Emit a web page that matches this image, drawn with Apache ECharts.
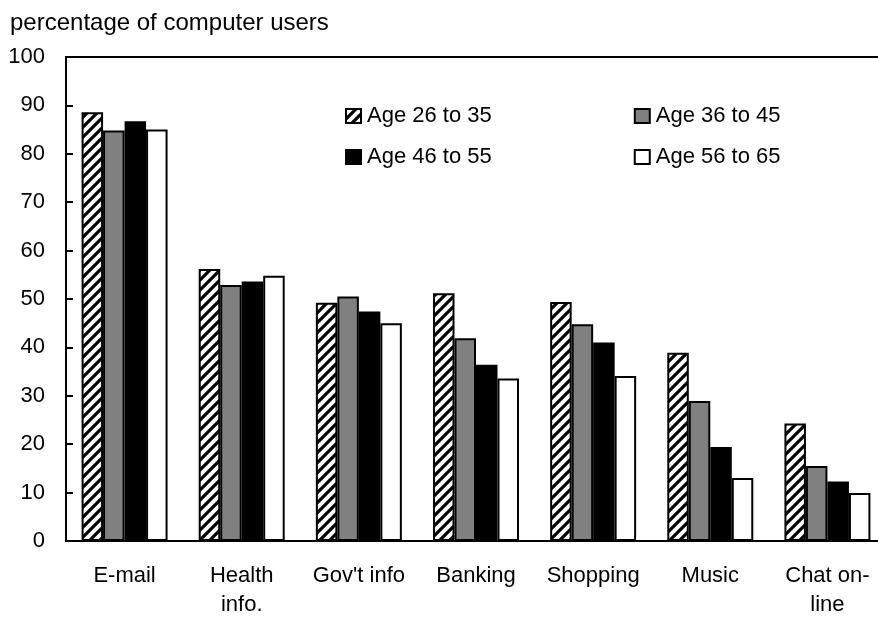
<!DOCTYPE html>
<html>
<head>
<meta charset="utf-8">
<script src="https://cdn.jsdelivr.net/npm/echarts@6/dist/echarts.min.js"></script>
<style>
html,body{margin:0;padding:0;background:#fff;overflow:hidden;}
#chart{width:878px;height:617px;}
</style>
</head>
<body>
<div id="chart"></div>
<script>
var categories = ['E-mail', 'Health\ninfo.', "Gov't info", 'Banking', 'Shopping', 'Music', 'Chat on-\nline'];
var seriesNames = ['Age 26 to 35', 'Age 36 to 45', 'Age 46 to 55', 'Age 56 to 65'];
var age26to35 = [88.6, 56.2, 49.2, 51.2, 49.4, 38.9, 24.3];
var age36to45 = [84.8, 52.9, 50.5, 41.9, 44.8, 28.9, 15.5];
var age46to55 = [86.7, 53.6, 47.4, 36.4, 41.0, 19.4, 12.3];
var age56to65 = [85.0, 54.8, 45.0, 33.6, 34.1, 13.0, 9.9];
var yTicks = [0, 10, 20, 30, 40, 50, 60, 70, 80, 90, 100];

function hatch() {
  var c = document.createElement('canvas');
  var s = 10;
  c.width = s; c.height = s;
  var ctx = c.getContext('2d');
  ctx.fillStyle = '#fff';
  ctx.fillRect(0, 0, s, s);
  ctx.strokeStyle = '#000';
  ctx.lineWidth = 3.2;
  ctx.beginPath();
  ctx.moveTo(-s/2, s/2); ctx.lineTo(s/2, -s/2);
  ctx.moveTo(0, s); ctx.lineTo(s, 0);
  ctx.moveTo(s/2, s*1.5); ctx.lineTo(s*1.5, s/2);
  ctx.stroke();
  return c;
}

var FONT = 'Arial, "Liberation Sans", sans-serif';
var fills = [{image: hatch(), repeat: 'repeat'}, '#808080', '#000000', '#ffffff'];
var data = [age26to35, age36to45, age46to55, age56to65];

var chart = echarts.init(document.getElementById('chart'), null, {renderer: 'canvas'});
var series = data.map(function (d, i) {
  return {
    name: seriesNames[i],
    type: 'bar',
    data: d,
    barGap: '0%',
    barCategoryGap: '26.6%',
    itemStyle: {color: fills[i], borderColor: '#000', borderWidth: 2},
    emphasis: {disabled: true},
    animation: false
  };
});

var legendText = {fontFamily: FONT, fontSize: 22, color: '#000', padding: [0, 0, 0, 1], lineHeight: 22};

chart.setOption({
  animation: false,
  title: {
    text: 'percentage of computer users',
    left: 10, top: 11, padding: 0,
    textStyle: {fontFamily: FONT, fontSize: 24, fontWeight: 'normal', color: '#000'}
  },
  legend: [{
    data: seriesNames.slice(0, 2),
    left: 345, top: 105, padding: 0, icon: 'rect',
    itemWidth: 15, itemHeight: 14, itemGap: 142,
    textStyle: legendText,
    selectedMode: false
  }, {
    data: seriesNames.slice(2, 4),
    left: 345, top: 146, padding: 0, icon: 'rect',
    itemWidth: 15, itemHeight: 14, itemGap: 142,
    textStyle: legendText,
    selectedMode: false
  }],
  grid: {
    left: 66, width: 820, top: 57, bottom: 76,
    outerBoundsMode: 'none', containLabel: false,
    show: true, borderColor: '#000', borderWidth: 2, backgroundColor: 'transparent'
  },
  xAxis: {
    type: 'category',
    data: categories,
    axisLine: {lineStyle: {color: '#000', width: 2}},
    axisTick: {show: false},
    axisLabel: {fontFamily: FONT, fontSize: 22, color: '#000', margin: 20, lineHeight: 29, interval: 0}
  },
  yAxis: {
    type: 'value',
    min: yTicks[0], max: yTicks[yTicks.length - 1], interval: 10,
    axisLine: {show: true, lineStyle: {color: '#000', width: 2}},
    axisTick: {show: true, inside: true, length: 7, lineStyle: {color: '#000', width: 2}},
    splitLine: {show: false},
    axisLabel: {fontFamily: FONT, fontSize: 22, color: '#000', margin: 21}
  },
  series: series
});
</script>
</body>
</html>
